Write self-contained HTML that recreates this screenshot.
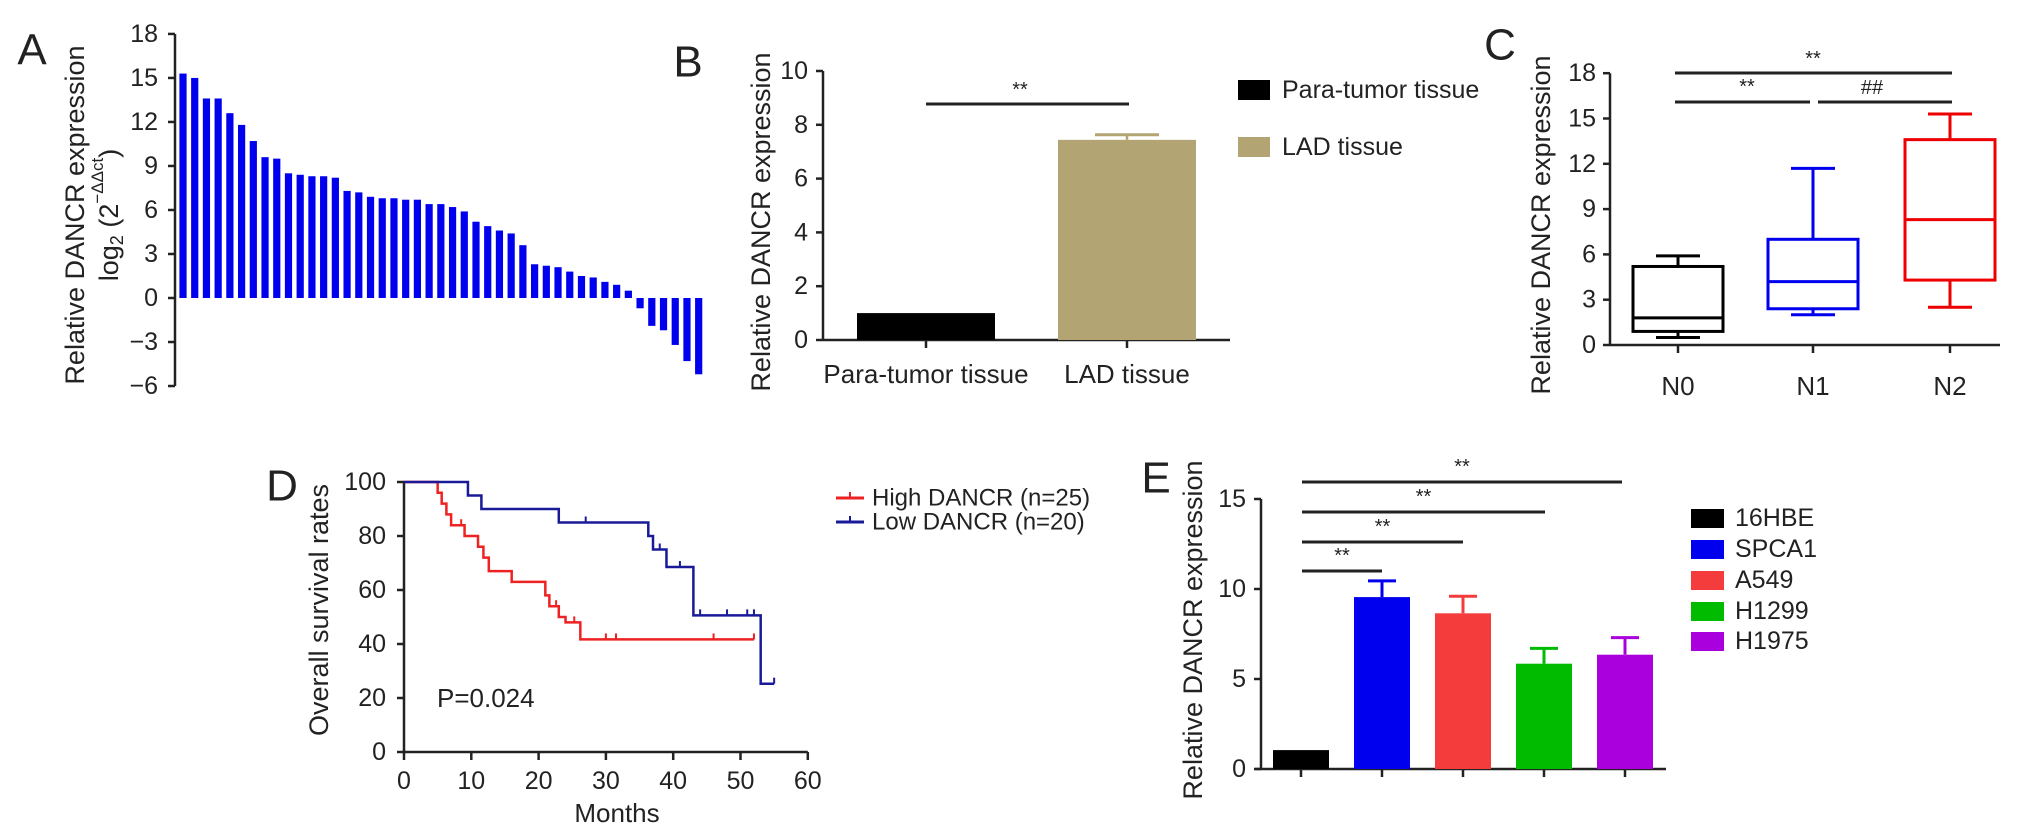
<!DOCTYPE html>
<html><head><meta charset="utf-8">
<style>
html,body{margin:0;padding:0;background:#fff;}
svg{display:block;font-family:"Liberation Sans",Arial,sans-serif;}
</style></head>
<body>
<svg id="fig" width="2032" height="835" viewBox="0 0 2032 835"></svg>
<script>
// ---------- Panel A data ----------
const aValues = [15.3,15.0,13.6,13.6,12.6,11.8,10.7,9.6,9.5,8.5,8.4,8.3,8.3,8.2,7.3,7.2,6.9,6.8,6.8,6.7,6.7,6.4,6.4,6.2,5.9,5.2,4.9,4.6,4.4,3.6,2.3,2.2,2.1,1.8,1.5,1.4,1.1,0.9,0.5,-0.7,-1.9,-2.2,-3.2,-4.3,-5.2];
const aTicks = [18,15,12,9,6,3,0,-3,-6];
// ---------- Panel B data ----------
const bCategories = ["Para-tumor tissue","LAD tissue"];
const bValues = [1.0,7.44];
const bErrors = [0,0.19];
const bColors = ["#000000","#b3a473"];
const bTicks = [0,2,4,6,8,10];
// ---------- Panel C data ----------
const cCategories = ["N0","N1","N2"];
const cMin = [0.5,2.0,2.5];
const cQ1 = [0.9,2.4,4.3];
const cMed = [1.8,4.2,8.3];
const cQ3 = [5.2,7.0,13.6];
const cMax = [5.9,11.7,15.3];
const cColors = ["#000000","#0000ee","#ee0000"];
const cTicks = [0,3,6,9,12,15,18];
// ---------- Panel D data ----------
const dHighT = [0,5,5.6,6.3,7,9,11,11.8,12.6,16,21,21.6,23,24,26.2];
const dHighS = [100,96,92,88,84,80,76,72,67,63,58,54,50,48,41.7];
const dHighEnd = 52;
const dHighCensT = [8.5,22.6,25.3,30,31.5,46,52];
const dLowT = [0,9.5,11.5,23,36.3,37,39,43,53];
const dLowS = [100,95,90,85,80,75,68.5,50.6,25.3];
const dLowEnd = 55;
const dLowCensT = [27,38,41,44,48,51,52,55];
const dXTicks = [0,10,20,30,40,50,60];
const dYTicks = [0,20,40,60,80,100];
// ---------- Panel E data ----------
const eCategories = ["16HBE","SPCA1","A549","H1299","H1975"];
const eValues = [1.05,9.55,8.65,5.85,6.35];
const eErrTop = [1.05,10.45,9.6,6.7,7.3];
const eColors = ["#000000","#0000ee","#f43c3c","#00bb00","#aa00dd"];
const eTicks = [0,5,10,15];

const NS="http://www.w3.org/2000/svg";
const svg=document.getElementById('fig');
function mk(tag,attrs,parent){const e=document.createElementNS(NS,tag);for(const k in attrs)e.setAttribute(k,attrs[k]);(parent||svg).appendChild(e);return e;}
function txt(s,x,y,size,anchor,parent,rot){const t=mk('text',{x:x,y:y,'font-size':size,'text-anchor':anchor||'middle','dominant-baseline':'central',fill:'#222'},parent);if(rot)t.setAttribute('transform','rotate(-90 '+x+' '+y+')');t.textContent=s;return t;}
function grp(name){const g=mk('g',{});return g;}
const AX='#222';

// ===== Panel A =====
(function(){
  const g=grp('panel-a');
  const axX=175, y0=298, u=14.67;
  const ya=v=>y0-v*u;
  const xa=i=>183+i*11.72;
  let t=txt('A',32,50,44,'middle',g);
  mk('line',{x1:axX,y1:ya(18),x2:axX,y2:ya(-6),stroke:AX,'stroke-width':2.5},g);
  aTicks.forEach(v=>{mk('line',{x1:axX-7,y1:ya(v),x2:axX,y2:ya(v),stroke:AX,'stroke-width':2.5},g);
    const l=txt((v<0?'\u2212':'')+Math.abs(v),158,ya(v),25,'end',g);});
  aValues.forEach((v,i)=>{const top=Math.min(ya(v),y0),h=Math.abs(ya(v)-y0);
    const r=mk('rect',{x:xa(i)-3.6,y:top,width:7.2,height:h,fill:'#0000ee'},g);
    
    });
  let yl=txt('Relative DANCR expression',75,215,27,'middle',g,true);
  const t2=mk('text',{x:109,y:215,'font-size':27,'text-anchor':'middle','dominant-baseline':'central',fill:'#222',transform:'rotate(-90 109 215)'},g);
  
  t2.innerHTML='log<tspan font-size="18" dy="8">2</tspan><tspan dy="-8"> (2</tspan><tspan font-size="17" dy="-12">\u2212\u0394\u0394ct</tspan><tspan dy="12">)</tspan>';
})();

// ===== Panel B =====
(function(){
  const g=grp('panel-b');
  const axX=823, y0=340, u=26.9;
  const ya=v=>y0-v*u;
  const cx=[926,1127];
  let t=txt('B',688,62,44,'middle',g);
  mk('line',{x1:axX,y1:ya(10),x2:axX,y2:y0,stroke:AX,'stroke-width':2.5},g);
  mk('line',{x1:axX,y1:y0,x2:1230,y2:y0,stroke:AX,'stroke-width':2.5},g);
  bTicks.forEach(v=>{mk('line',{x1:axX-7,y1:ya(v),x2:axX,y2:ya(v),stroke:AX,'stroke-width':2.5},g);
    const l=txt(String(v),808,ya(v),25,'end',g);});
  bCategories.forEach((c,i)=>{
    const r=mk('rect',{x:cx[i]-69,y:ya(bValues[i]),width:138,height:bValues[i]*u,fill:bColors[i]},g);
    
    
    if(bErrors[i]>0){const et=ya(bValues[i]+bErrors[i]);
      mk('line',{x1:cx[i],y1:et,x2:cx[i],y2:ya(bValues[i]),stroke:bColors[i],'stroke-width':2.5},g);
      mk('line',{x1:cx[i]-32,y1:et,x2:cx[i]+32,y2:et,stroke:bColors[i],'stroke-width':3},g);}
    mk('line',{x1:cx[i],y1:y0,x2:cx[i],y2:y0+8,stroke:AX,'stroke-width':2.5},g);
    const l=txt(c,cx[i],374,26,'middle',g);
  });
  mk('line',{x1:926,y1:104,x2:1129,y2:104,stroke:AX,'stroke-width':3},g);
  txt('**',1020,90,20,'middle',g);
  let yl=txt('Relative DANCR expression',761,222,27,'middle',g,true);
  const leg=[['Para-tumor tissue',90],['LAD tissue',147]];
  leg.forEach((L,i)=>{const s=mk('rect',{x:1238,y:L[1]-10,width:32,height:20,fill:bColors[i]},g);
    
    const l=txt(L[0],1282,L[1],25,'start',g);});
})();

// ===== Panel C =====
(function(){
  const g=grp('panel-c');
  const axX=1610, y0=345, u=15.1;
  const ya=v=>y0-v*u;
  const cx=[1678,1813,1950];
  let t=txt('C',1500,45,44,'middle',g);
  mk('line',{x1:axX,y1:ya(18),x2:axX,y2:y0,stroke:AX,'stroke-width':2.5},g);
  mk('line',{x1:axX,y1:y0,x2:2000,y2:y0,stroke:AX,'stroke-width':2.5},g);
  cTicks.forEach(v=>{mk('line',{x1:axX-7,y1:ya(v),x2:axX,y2:ya(v),stroke:AX,'stroke-width':2.5},g);
    const l=txt(String(v),1596,ya(v),25,'end',g);});
  cCategories.forEach((c,i)=>{
    const col=cColors[i],x=cx[i];
    mk('line',{x1:x,y1:ya(cMax[i]),x2:x,y2:ya(cQ3[i]),stroke:col,'stroke-width':3},g);
    mk('line',{x1:x,y1:ya(cQ1[i]),x2:x,y2:ya(cMin[i]),stroke:col,'stroke-width':3},g);
    mk('line',{x1:x-22,y1:ya(cMax[i]),x2:x+22,y2:ya(cMax[i]),stroke:col,'stroke-width':3},g);
    mk('line',{x1:x-22,y1:ya(cMin[i]),x2:x+22,y2:ya(cMin[i]),stroke:col,'stroke-width':3},g);
    const b=mk('rect',{x:x-45,y:ya(cQ3[i]),width:90,height:(cQ3[i]-cQ1[i])*u,fill:'none',stroke:col,'stroke-width':3},g);
    
    
    mk('line',{x1:x-45,y1:ya(cMed[i]),x2:x+45,y2:ya(cMed[i]),stroke:col,'stroke-width':3},g);
    mk('line',{x1:x,y1:y0,x2:x,y2:y0+8,stroke:AX,'stroke-width':2.5},g);
    const l=txt(c,x,386,26,'middle',g);
  });
  mk('line',{x1:1675,y1:73,x2:1952,y2:73,stroke:AX,'stroke-width':3},g);
  mk('line',{x1:1675,y1:102,x2:1810,y2:102,stroke:AX,'stroke-width':3},g);
  mk('line',{x1:1818,y1:102,x2:1952,y2:102,stroke:AX,'stroke-width':3},g);
  txt('**',1813,59,20,'middle',g);txt('**',1747,87,20,'middle',g);txt('##',1872,88,20,'middle',g);
  let yl=txt('Relative DANCR expression',1541,225,27,'middle',g,true);
})();

// ===== Panel D =====
(function(){
  const g=grp('panel-d');
  const x0=404, xu=6.73, y0=752, yu=2.7;
  const xa=v=>x0+v*xu, ya=v=>y0-v*yu;
  let t=txt('D',282,486,44,'middle',g);
  mk('line',{x1:x0,y1:ya(100),x2:x0,y2:y0,stroke:AX,'stroke-width':2.5},g);
  mk('line',{x1:x0,y1:y0,x2:xa(60),y2:y0,stroke:AX,'stroke-width':2.5},g);
  dYTicks.forEach(v=>{mk('line',{x1:x0-7,y1:ya(v),x2:x0,y2:ya(v),stroke:AX,'stroke-width':2.5},g);
    const l=txt(String(v),386,ya(v),25,'end',g);});
  dXTicks.forEach(v=>{mk('line',{x1:xa(v),y1:y0,x2:xa(v),y2:y0+8,stroke:AX,'stroke-width':2.5},g);
    const l=txt(String(v),xa(v),781,25,'middle',g);});
  function km(T,S,end,cens,col,name){
    let d='M'+xa(T[0])+','+ya(S[0]);
    for(let i=1;i<T.length;i++){d+=' H'+xa(T[i])+' V'+ya(S[i]);}
    d+=' H'+xa(end);
    const p=mk('path',{d:d,fill:'none',stroke:col,'stroke-width':2.5},g);
    
    
    cens.forEach(c=>{let s=S[0];for(let i=0;i<T.length;i++){if(T[i]<=c)s=S[i];}
      mk('line',{x1:xa(c),y1:ya(s),x2:xa(c),y2:ya(s)-6,stroke:col,'stroke-width':2},g);});
  }
  km(dHighT,dHighS,dHighEnd,dHighCensT,'#ee2222','high-dancr-curve');
  km(dLowT,dLowS,dLowEnd,dLowCensT,'#1a1a99','low-dancr-curve');
  txt('P=0.024',437,698,26,'start',g);
  let yl=txt('Overall survival rates',319,610,27,'middle',g,true);
  let xl=txt('Months',617,813,26,'middle',g);
  [['High DANCR (n=25)',498,'#ee2222'],['Low DANCR (n=20)',522,'#1a1a99']].forEach(L=>{
    mk('line',{x1:836,y1:L[1],x2:864,y2:L[1],stroke:L[2],'stroke-width':3},g);
    mk('line',{x1:850,y1:L[1],x2:850,y2:L[1]-6,stroke:L[2],'stroke-width':2},g);
    const l=txt(L[0],872,L[1],24,'start',g);});
})();

// ===== Panel E =====
(function(){
  const g=grp('panel-e');
  const axX=1261, y0=769, u=18;
  const ya=v=>y0-v*u;
  const cx=[1301,1382,1463,1544,1625];
  let t=txt('E',1156,478,44,'middle',g);
  mk('line',{x1:axX,y1:ya(15),x2:axX,y2:y0,stroke:AX,'stroke-width':2.5},g);
  mk('line',{x1:1255,y1:y0,x2:1666,y2:y0,stroke:AX,'stroke-width':2.5},g);
  eTicks.forEach(v=>{mk('line',{x1:axX-7,y1:ya(v),x2:axX,y2:ya(v),stroke:AX,'stroke-width':2.5},g);
    const l=txt(String(v),1246,ya(v),25,'end',g);});
  eCategories.forEach((c,i)=>{
    const x=cx[i];
    if(eErrTop[i]>eValues[i]){
      mk('line',{x1:x,y1:ya(eErrTop[i]),x2:x,y2:ya(eValues[i]),stroke:eColors[i],'stroke-width':3},g);
      mk('line',{x1:x-14,y1:ya(eErrTop[i]),x2:x+14,y2:ya(eErrTop[i]),stroke:eColors[i],'stroke-width':3},g);}
    const r=mk('rect',{x:x-28,y:ya(eValues[i]),width:56,height:eValues[i]*u,fill:eColors[i]},g);
    
    
    mk('line',{x1:x,y1:y0,x2:x,y2:y0+8,stroke:AX,'stroke-width':2.5},g);
  });
  const sig=[[571,1382],[542,1463],[512,1545],[482,1622]];
  sig.forEach(s=>{mk('line',{x1:1302,y1:s[0],x2:s[1],y2:s[0],stroke:AX,'stroke-width':3},g);
    txt('**',(1302+s[1])/2,s[0]-15,20,'middle',g);});
  let yl=txt('Relative DANCR expression',1193,630,27,'middle',g,true);
  const ly=[518,549,580,611,641];
  eCategories.forEach((c,i)=>{const s=mk('rect',{x:1691,y:ly[i]-9,width:33,height:19,fill:eColors[i]},g);
    
    const l=txt(c,1735,ly[i],25,'start',g);});
})();
</script>
</body></html>
